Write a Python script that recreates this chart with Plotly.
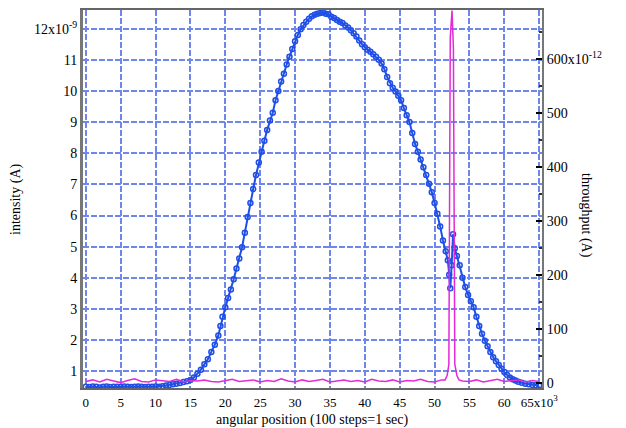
import plotly.graph_objects as go

# intensity scan (left axis), x in 10^3 steps, values in 10^-9 A
angle_k = [
    0.0, 0.5, 1.0, 1.5, 2.0, 2.5, 3.0, 3.5, 4.0, 4.5, 5.0, 5.5, 6.0, 6.5, 7.0, 7.5,
    8.0, 8.5, 9.0, 9.5, 10.0, 10.5, 11.0, 11.5, 12.0, 12.5, 13.0, 13.5, 14.0, 14.5,
    15.0, 15.5, 16.0, 16.5, 17.0, 17.5, 18.0, 18.5, 19.0, 19.3, 19.6, 20.0, 20.4,
    20.8, 21.2, 21.6, 22.0, 22.4, 22.8, 23.2, 23.6, 24.0, 24.4, 24.8, 25.2, 25.6,
    26.0, 26.4, 26.8, 27.2, 27.6, 28.0, 28.4, 28.8, 29.2, 29.6, 30.0, 30.4, 30.8,
    31.2, 31.6, 32.0, 32.4, 32.8, 33.2, 33.6, 34.0, 34.4, 34.8, 35.2, 35.6, 36.0,
    36.4, 36.8, 37.2, 37.6, 38.0, 38.4, 38.8, 39.2, 39.6, 40.0, 40.4, 40.8, 41.2,
    41.6, 42.0, 42.4, 42.8, 43.2, 43.6, 44.0, 44.4, 44.8, 45.2, 45.6, 46.0, 46.4,
    46.8, 47.2, 47.6, 48.0, 48.4, 48.8, 49.2, 49.6, 50.0, 50.4, 50.8, 51.2, 51.6,
    51.9, 52.1, 52.25, 52.45, 52.65, 52.9, 53.2, 53.6, 54.0, 54.4, 54.8, 55.2, 55.6,
    56.0, 56.4, 56.8, 57.2, 57.6, 58.0, 58.4, 58.8, 59.2, 59.6, 60.0, 60.4, 60.8,
    61.2, 61.6, 62.0, 62.5, 63.0, 63.5, 64.0, 64.5, 65.0,
]
intensity_n = [
    0.50, 0.49, 0.51, 0.50, 0.48, 0.50, 0.51, 0.49, 0.50, 0.50, 0.49, 0.51, 0.50, 0.49, 0.50, 0.51,
    0.50, 0.49, 0.50, 0.50, 0.51, 0.50, 0.52, 0.54, 0.56, 0.58, 0.60, 0.62, 0.65, 0.68,
    0.72, 0.80, 0.92, 1.05, 1.22, 1.38, 1.62, 1.85, 2.15, 2.45, 2.75, 3.05, 3.35,
    3.62, 3.95, 4.30, 4.62, 4.98, 5.45, 5.95, 6.40, 6.85, 7.30, 7.70, 8.05, 8.40,
    8.75, 9.05, 9.30, 9.70, 10.00, 10.30, 10.55, 10.85, 11.10, 11.35, 11.60, 11.80, 11.98,
    12.12, 12.22, 12.32, 12.40, 12.45, 12.48, 12.50, 12.52, 12.48, 12.46, 12.38, 12.34, 12.28,
    12.22, 12.18, 12.10, 12.04, 11.95, 11.85, 11.75, 11.62, 11.50, 11.40, 11.32, 11.26, 11.18,
    11.10, 11.00, 10.88, 10.70, 10.45, 10.25, 10.10, 9.98, 9.85, 9.70, 9.45, 9.22, 9.00,
    8.65, 8.30, 8.05, 7.80, 7.55, 7.30, 7.02, 6.75, 6.40, 6.06, 5.65, 5.20, 4.85,
    4.56, 4.10, 3.66, 4.40, 5.40, 4.95, 4.70, 4.40, 4.00, 3.70, 3.45, 3.25, 3.05,
    2.75, 2.45, 2.20, 1.98, 1.80, 1.62, 1.45, 1.32, 1.20, 1.08, 0.97, 0.88, 0.80,
    0.74, 0.70, 0.66, 0.63, 0.60, 0.58, 0.56, 0.55, 0.54,
]

# throughput (right axis), x in 10^3 steps, values in 10^-12 A
through_k = [
    0.0, 1.0, 2.0, 3.0, 4.0, 5.0, 6.0, 7.0, 8.0, 9.0, 10.0, 11.0, 12.0, 13.0, 14.0,
    15.0, 16.0, 17.0, 18.0, 19.0, 20.0, 21.0, 22.0, 23.0, 24.0, 25.0, 26.0, 27.0,
    28.0, 29.0, 30.0, 31.0, 32.0, 33.0, 34.0, 35.0, 36.0, 37.0, 38.0, 39.0, 40.0,
    41.0, 42.0, 43.0, 44.0, 45.0, 46.0, 47.0, 48.0, 49.0, 50.0, 51.0, 51.5, 51.8,
    52.05, 52.25, 52.5, 52.7, 52.9, 53.2, 53.5, 54.0, 55.0, 56.0, 57.0, 58.0, 59.0,
    60.0, 61.0, 62.0, 63.0, 64.0, 65.0,
]
throughput_p = [
    3, 6, 2, 7, 4, 1, 5, 8, 3, 2, 6, 4, 3, 7, 2,
    5, 4, 6, 3, 2, 5, 7, 3, 4, 6, 2, 5, 3,
    8, 4, 2, 6, 3, 5, 7, 2, 4, 6, 3, 5, 2,
    7, 4, 3, 6, 2, 5, 4, 7, 3, 2, 6, 6, 14,
    35, 640, 690, 620, 35, 14, 6, 4, 3, 6, 2, 5, 7,
    3, 4, 6, 2, 5, 3,
]

x_ticks = list(range(0, 66, 5))
x_labels = [str(v) for v in x_ticks[:-1]] + ["65x10<sup>3</sup>"]
y_ticks = list(range(1, 13))
y_labels = [str(v) for v in y_ticks[:-1]] + ["12x10<sup>-9</sup>"]
y2_ticks = list(range(0, 601, 100))
y2_labels = [str(v) for v in y2_ticks[:-1]] + ["600x10<sup>-12</sup>"]

grid_color = "#6f87ec"
font = dict(family="Liberation Serif", size=14, color="black")

# the page body adds an 8px offset, so the figure is drawn 8px smaller
page_off = 8
fig_w, fig_h = 626 - page_off, 428 - page_off
left, right, top, bottom = 83 - page_off, 84, 10 - page_off, 40
plot_w = fig_w - left - right
plot_h = fig_h - top - bottom


def to_paper(px, py):
    # px, py are positions in the screenshot
    return (px - page_off - left) / plot_w, (fig_h - bottom - (py - page_off)) / plot_h


fig = go.Figure()
fig.add_trace(
    go.Scatter(
        x=angle_k,
        y=intensity_n,
        mode="lines+markers",
        line=dict(color="#1f4fe6", width=2),
        marker=dict(symbol="circle-open", size=5, color="#1f4fe6", line=dict(width=1.5)),
        yaxis="y",
    )
)
fig.add_trace(
    go.Scatter(
        x=through_k,
        y=throughput_p,
        mode="lines",
        line=dict(color="#e22ad6", width=1.5),
        yaxis="y2",
    )
)

annotations = []
for text, px, py, angle in [
    ("intensity (A)", 16, 200, -90),
    ("throughput (A)", 586, 215, 90),
    ("angular position (100 steps=1 sec)", 312, 420, 0),
]:
    ax, ay = to_paper(px, py)
    annotations.append(
        dict(text=text, x=ax, y=ay, xref="paper", yref="paper",
             xanchor="center", yanchor="middle",
             textangle=angle, showarrow=False, font=font)
    )

fig.update_layout(
    width=fig_w,
    height=fig_h,
    showlegend=False,
    plot_bgcolor="white",
    paper_bgcolor="white",
    font=font,
    margin=dict(l=left, r=right, t=top, b=bottom, autoexpand=False),
    xaxis=dict(
        range=[-0.4, 65.4],
        tickvals=x_ticks,
        ticktext=x_labels,
        tickfont=dict(family="Liberation Serif", size=13, color="black"),
        showgrid=True,
        gridcolor=grid_color,
        gridwidth=2,
        griddash="6px,2px",
        zeroline=False,
        showline=True,
        linecolor="#666",
        linewidth=2,
        mirror=True,
        ticks="",
        ticklabelstandoff=1,
        automargin=False,
    ),
    yaxis=dict(
        range=[0.46, 12.6],
        tickvals=y_ticks,
        ticktext=y_labels,
        showgrid=True,
        gridcolor=grid_color,
        gridwidth=2,
        griddash="6px,2px",
        zeroline=False,
        showline=True,
        linecolor="#777",
        linewidth=3,
        ticks="",
        automargin=False,
    ),
    yaxis2=dict(
        range=[-9, 691],
        tickvals=y2_ticks,
        ticktext=y2_labels,
        overlaying="y",
        side="right",
        showgrid=False,
        zeroline=False,
        showline=True,
        linecolor="#777",
        linewidth=2,
        ticks="inside",
        ticklen=6,
        tickcolor="black",
        tickwidth=1.5,
        minor=dict(ticks="inside", ticklen=3, dtick=50, tickcolor="#333"),
        automargin=False,
    ),
    annotations=annotations,
)

fig.write_html("out.html")
